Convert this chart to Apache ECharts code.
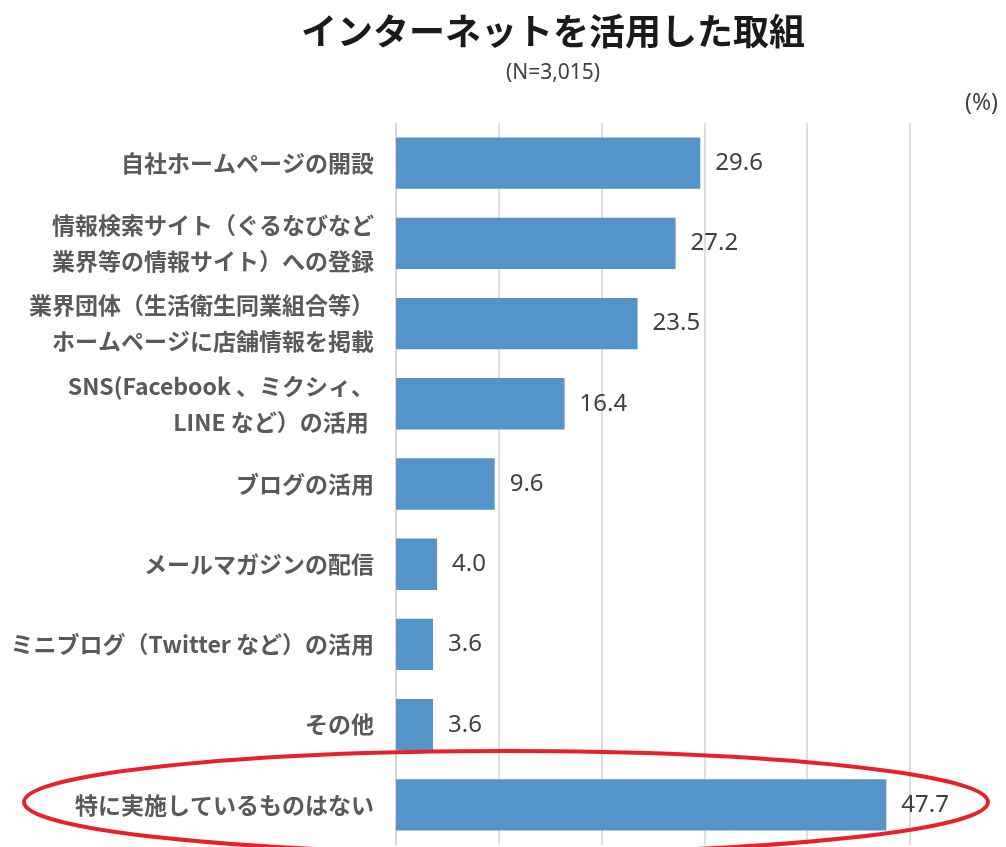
<!DOCTYPE html>
<html>
<head>
<meta charset="utf-8">
<script src="https://cdn.jsdelivr.net/npm/echarts@6/dist/echarts.min.js"></script>
<style>
  html, body { margin: 0; padding: 0; background: #fff; }
  #chart { width: 1006px; height: 847px; }
</style>
</head>
<body>
<div id="chart"></div>
<script>
const categories = [
  '自社ホームページの開設',
  '情報検索サイト（ぐるなびなど\n業界等の情報サイト）への登録',
  '業界団体（生活衛生同業組合等）\nホームページに店舗情報を掲載',
  'SNS(Facebook 、ミクシィ、\nLINE など）の活用 ',
  'ブログの活用',
  'メールマガジンの配信',
  'ミニブログ（Twitter など）の活用',
  'その他',
  '特に実施しているものはない'
];
const values = [29.6, 27.2, 23.5, 16.4, 9.6, 4.0, 3.6, 3.6, 47.7];
const xTicks = [0, 10, 20, 30, 40, 50];

const chart = echarts.init(document.getElementById('chart'));

const option = {
  animation: false,
  title: [
    {
      text: 'インターネットを活用した取組',
      left: 548,
      textAlign: 'center',
      top: 8,
      textStyle: {
        fontFamily: 'Noto Sans CJK JP',
        fontSize: 36,
        fontWeight: 'bold',
        color: '#1a1a1a'
      }
    },
    {
      text: '(N=3,015)',
      left: 548,
      textAlign: 'center',
      top: 58,
      textStyle: {
        fontFamily: 'Noto Sans',
        fontSize: 21,
        fontWeight: 'normal',
        color: '#404040'
      }
    },
    {
      text: '(%)',
      right: 3,
      top: 87,
      textStyle: {
        fontFamily: 'Noto Sans',
        fontSize: 23,
        fontWeight: 'normal',
        color: '#404040'
      }
    }
  ],
  grid: {
    left: 396,
    right: 96,
    top: 123,
    height: 722,
    containLabel: false
  },
  xAxis: {
    type: 'value',
    min: xTicks[0],
    max: xTicks[xTicks.length - 1],
    interval: 10,
    axisLabel: { show: false },
    axisLine: { show: false },
    axisTick: { show: false },
    splitLine: { lineStyle: { color: '#d4d4d4', width: 1.5 } }
  },
  yAxis: {
    type: 'category',
    inverse: true,
    data: categories,
    axisTick: { show: false },
    axisLine: { lineStyle: { color: '#d4d4d4', width: 1.5 } },
    axisLabel: {
      margin: 22,
      fontFamily: 'Noto Sans CJK JP',
      fontSize: 23,
      fontWeight: 'bold',
      color: '#595959',
      lineHeight: 36,
      align: 'right'
    }
  },
  series: [
    {
      type: 'bar',
      data: values,
      barCategoryGap: '36%',
      itemStyle: { color: '#5494c9' },
      label: {
        show: true,
        position: 'right',
        distance: 15,
        formatter: p => p.value.toFixed(1),
        fontFamily: 'Noto Sans',
        fontSize: 24,
        color: '#404040'
      }
    }
  ],
  graphic: [
    {
      type: 'ellipse',
      shape: { cx: 506, cy: 802, rx: 482, ry: 51 },
      style: { fill: 'none', stroke: '#e8202a', lineWidth: 4 },
      z: 100
    }
  ]
};

chart.setOption(option);
</script>
</body>
</html>
